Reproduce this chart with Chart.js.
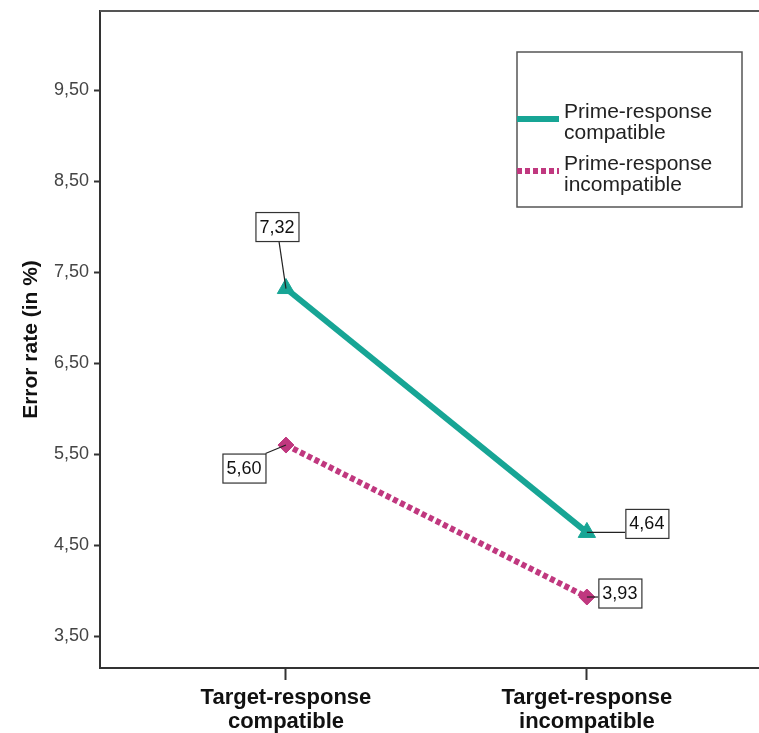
<!DOCTYPE html>
<html>
<head>
<meta charset="utf-8">
<script src="https://cdn.jsdelivr.net/npm/chart.js@4.4.1/dist/chart.umd.min.js"></script>
<style>
  html, body { margin: 0; padding: 0; background: #fff; overflow: hidden; }
  #wrap { width: 759px; height: 733px; position: relative; }
  #chart { display: block; }
</style>
</head>
<body>
<div id="wrap"><canvas id="chart"></canvas></div>
<script>
const categories = [['Target-response', 'compatible'], ['Target-response', 'incompatible']];
const seriesNames = [['Prime-response', 'compatible'], ['Prime-response', 'incompatible']];
const compatibleValues = [7.32, 4.64];
const incompatibleValues = [5.60, 3.93];
const yTicks = [3.5, 4.5, 5.5, 6.5, 7.5, 8.5, 9.5];

const TEAL = '#17a595';
const PINK = '#c0387f';
const FONT = "'Liberation Sans', Arial, sans-serif";

function fmt(v) {
  return v.toFixed(2).replace('.', ',');
}

function toPoints(values) {
  return values.map((v, i) => ({ x: i, y: v }));
}

// value labels in little boxes, with a leader line back to the point
const boxOffsets = [
  [[-9, -62], [60, -9]],
  [[-42, 23], [33, -4]]
];

const valueLabels = {
  id: 'valueLabels',
  afterDatasetsDraw(chart) {
    const ctx = chart.ctx;
    ctx.save();
    ctx.font = '18px ' + FONT;
    ctx.textAlign = 'center';
    ctx.textBaseline = 'middle';
    chart.data.datasets.forEach((ds, di) => {
      const meta = chart.getDatasetMeta(di);
      meta.data.forEach((pt, i) => {
        const text = fmt(ds.data[i].y);
        const w = ctx.measureText(text).width + 8;
        const h = 29;
        const cx = pt.x + boxOffsets[di][i][0];
        const cy = pt.y + boxOffsets[di][i][1];
        const bx = cx - w / 2, by = cy - h / 2;
        // leader line to nearest point of box
        let nx = Math.min(Math.max(pt.x, bx), bx + w);
        const ny = Math.min(Math.max(pt.y, by), by + h);
        if (ny === by + h && nx > cx) nx = cx + 2;
        ctx.strokeStyle = '#222';
        ctx.lineWidth = 1.2;
        ctx.beginPath();
        ctx.moveTo(pt.x, pt.y);
        ctx.lineTo(nx, ny);
        ctx.stroke();
        ctx.fillStyle = '#fff';
        ctx.fillRect(bx, by, w, h);
        ctx.strokeStyle = '#333';
        ctx.lineWidth = 1.2;
        ctx.strokeRect(bx + 0.5, by + 0.5, w, h);
        ctx.fillStyle = '#111';
        ctx.fillText(text, cx, cy + 1);
      });
    });
    ctx.restore();
  }
};

// top frame line and boxed legend
const frameAndLegend = {
  id: 'frameAndLegend',
  afterDraw(chart) {
    const ctx = chart.ctx;
    const a = chart.chartArea;
    ctx.save();
    ctx.strokeStyle = '#555';
    ctx.lineWidth = 2;
    ctx.beginPath();
    ctx.moveTo(a.left, a.top);
    ctx.lineTo(chart.width, a.top);
    ctx.stroke();

    const lx = 517, ly = 52, lw = 225, lh = 155;
    ctx.strokeStyle = '#555';
    ctx.lineWidth = 1.5;
    ctx.strokeRect(lx, ly, lw, lh);

    ctx.font = '21px ' + FONT;
    ctx.textAlign = 'left';
    ctx.textBaseline = 'middle';
    const rows = [112, 164];
    chart.data.datasets.forEach((ds, di) => {
      const y0 = rows[di];
      ctx.strokeStyle = ds.borderColor;
      ctx.lineWidth = ds.borderWidth;
      ctx.setLineDash(ds.borderDash || []);
      ctx.beginPath();
      ctx.moveTo(lx, y0 + 7);
      ctx.lineTo(lx + 42, y0 + 7);
      ctx.stroke();
      ctx.setLineDash([]);
      ctx.fillStyle = '#222';
      seriesNames[di].forEach((line, li) => {
        ctx.fillText(line, lx + 47, y0 + li * 21);
      });
    });
    ctx.restore();
  }
};

const ctx = document.getElementById('chart').getContext('2d');
new Chart(ctx, {
  type: 'line',
  data: {
    datasets: [{
      label: seriesNames[0].join(' '),
      data: toPoints(compatibleValues),
      borderColor: TEAL,
      backgroundColor: TEAL,
      borderWidth: 6,
      pointStyle: 'triangle',
      pointRadius: 10,
      pointBorderWidth: 1,
      tension: 0
    }, {
      label: seriesNames[1].join(' '),
      data: toPoints(incompatibleValues),
      borderColor: PINK,
      backgroundColor: PINK,
      borderWidth: 6,
      borderDash: [5, 3],
      pointStyle: 'rectRot',
      pointRadius: 8,
      pointBorderWidth: 1,
      tension: 0
    }]
  },
  options: {
    responsive: true,
    maintainAspectRatio: false,
    animation: false,
    layout: { autoPadding: false, padding: { top: 11, right: 0, left: 0, bottom: 0 } },
    plugins: {
      legend: { display: false },
      tooltip: { enabled: false }
    },
    scales: {
      x: {
        type: 'linear',
        min: -0.618,
        max: 1.572,
        afterBuildTicks: (scale) => {
          scale.ticks = categories.map((_, i) => ({ value: i }));
        },
        afterFit: (scale) => {
          scale.height = 65;
          scale.paddingLeft = 0;
          scale.paddingRight = 0;
        },
        grid: {
          display: true,
          drawOnChartArea: false,
          drawTicks: true,
          tickLength: 12,
          tickColor: '#333',
          tickWidth: 2
        },
        border: { display: true, color: '#333', width: 2 },
        ticks: {
          autoSkip: false,
          maxRotation: 0,
          padding: 6,
          color: '#111',
          font: { family: FONT, size: 22, weight: 'bold', lineHeight: 1.1 },
          callback: (value) => categories[value]
        }
      },
      y: {
        min: 3.15,
        max: 10.37,
        afterBuildTicks: (scale) => {
          scale.ticks = yTicks.map(v => ({ value: v }));
        },
        afterFit: (scale) => {
          scale.width = 100;
          scale.paddingTop = 0;
          scale.paddingBottom = 0;
        },
        grid: {
          display: true,
          drawOnChartArea: false,
          drawTicks: true,
          tickLength: 6,
          tickColor: '#333',
          tickWidth: 2
        },
        border: { display: true, color: '#333', width: 2 },
        ticks: {
          padding: 5,
          color: '#444',
          font: { family: FONT, size: 18 },
          callback: (value) => fmt(value)
        },
        title: {
          display: true,
          text: 'Error rate (in %)',
          color: '#111',
          font: { family: FONT, size: 21, weight: 'bold' },
          padding: { top: 19, bottom: 0 }
        }
      }
    }
  },
  plugins: [valueLabels, frameAndLegend]
});
</script>
</body>
</html>
